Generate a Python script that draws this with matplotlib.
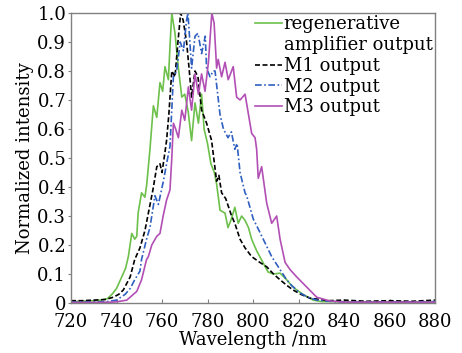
import matplotlib
matplotlib.use("Agg")
import matplotlib.pyplot as plt
from matplotlib.lines import Line2D

# ---- data ----
green_wl = [720, 725, 730, 733, 736, 738, 740, 742.3, 744, 745.2, 746.7, 748, 748.9, 749.5, 751, 752.5,
            753.3, 754.7, 756.2, 757.7, 759.1, 760.3, 761.3, 762.8, 763.6, 764.3, 765.7, 767.2, 768.7,
            770, 771.5, 773, 774.5, 776, 777.4, 778.5, 780, 781.5, 783, 784, 785.5, 787.7, 789, 790.5,
            792, 793.5, 795, 796.5, 798, 799.4, 801.6, 803.8, 806.6, 809, 811.9, 814.8, 817, 819.2,
            822, 826.4, 830, 840, 850, 860, 870, 880]
green_I = [0.005, 0.006, 0.008, 0.01, 0.015, 0.03, 0.05, 0.09, 0.12, 0.16, 0.24, 0.22, 0.23, 0.31, 0.38, 0.365,
           0.41, 0.53, 0.68, 0.64, 0.76, 0.73, 0.815, 0.77, 0.90, 1.0, 0.93, 0.81, 0.71,
           0.72, 0.66, 0.56, 0.69, 0.62, 0.72, 0.60, 0.55, 0.48, 0.45, 0.41, 0.32, 0.31, 0.26, 0.29,
           0.33, 0.275, 0.30, 0.285, 0.26, 0.22, 0.18, 0.148, 0.107, 0.10, 0.103, 0.08, 0.06, 0.045,
           0.03, 0.01, 0.005, 0.004, 0.004, 0.004, 0.004, 0.004]

m1_wl = [720, 725, 730, 735, 738.6, 741, 743, 746, 748, 750.3, 752.5, 754, 756, 757.7, 759.1, 760, 761.3,
         762, 763, 764.3, 765.7, 767, 768.2, 769.3, 770.8, 772, 773, 774.5, 775.8, 777.4, 779.6, 781.8,
         784, 785, 786.2, 788, 790.6, 792, 794.3, 796.5, 799.4, 803, 806, 809, 811.9, 815, 817.6, 821,
         825, 833, 840, 850, 860, 870, 880]
m1_I = [0.008, 0.008, 0.01, 0.012, 0.02, 0.03, 0.045, 0.09, 0.15, 0.19, 0.25, 0.31, 0.39, 0.47, 0.48, 0.45, 0.52,
        0.56, 0.65, 0.80, 0.78, 0.90, 1.0, 0.975, 0.90, 0.80, 0.71, 0.80, 0.78, 0.665, 0.62, 0.56,
        0.42, 0.44, 0.38, 0.36, 0.30, 0.275, 0.22, 0.19, 0.16, 0.14, 0.125, 0.10, 0.08, 0.06, 0.045, 0.03,
        0.017, 0.008, 0.01, 0.006, 0.008, 0.006, 0.01]

m2_wl = [720, 730, 736, 740, 743.8, 746, 748, 750.3, 751, 753.2, 754.7, 756.9, 758.4, 760.6, 762, 763.5,
         765, 766.4, 768, 769.4, 770.8, 771.4, 773, 774.5, 775.8, 777.4, 779, 779.6, 781.1, 782.5, 783.3,
         785.5, 787, 789, 790.5, 792, 793, 794.3, 796.5, 797.2, 800.1, 802, 804.5, 808.2, 811.9, 814.8,
         817, 820.6, 824, 828, 835, 840, 850, 860, 870, 880]
m2_I = [0.003, 0.004, 0.005, 0.01, 0.03, 0.05, 0.08, 0.11, 0.15, 0.22, 0.26, 0.37, 0.34, 0.42, 0.48, 0.54,
        0.78, 0.80, 0.90, 0.87, 0.975, 1.0, 0.81, 0.92, 0.93, 0.86, 0.92, 0.81, 0.78, 0.80, 0.80,
        0.65, 0.60, 0.57, 0.59, 0.53, 0.55, 0.45, 0.38, 0.37, 0.29, 0.26, 0.22, 0.16, 0.115, 0.08,
        0.06, 0.035, 0.02, 0.01, 0.005, 0.004, 0.004, 0.004, 0.004, 0.005]

m3_wl = [720, 730, 738, 740, 744.5, 748.9, 751, 753.2, 754, 755.5, 757.7, 759.1, 760.5, 762, 763.5, 764.3,
         765, 766, 767.2, 768.7, 770, 771.6, 773, 774.5, 776, 777.4, 778.9, 780.4, 781.9, 782.9, 784,
         784.7, 786.2, 787.7, 789.1, 791.3, 792.8, 794.3, 796.5, 797.9, 799.4, 800.9, 801.6, 802.3,
         803.8, 806, 808.2, 810.4, 811.9, 814.1, 816.3, 819.2, 823.6, 828, 833.8, 840, 850, 860, 870, 880]
m3_I = [0.002, 0.002, 0.003, 0.004, 0.01, 0.04, 0.08, 0.15, 0.16, 0.20, 0.23, 0.24, 0.30, 0.355, 0.39, 0.50,
        0.62, 0.60, 0.57, 0.665, 0.63, 0.745, 0.665, 0.79, 0.72, 0.79, 0.73, 0.83, 1.0, 0.965, 0.81,
        0.84, 0.78, 0.83, 0.77, 0.815, 0.71, 0.70, 0.72, 0.655, 0.585, 0.57, 0.53, 0.43,
        0.47, 0.345, 0.275, 0.30, 0.22, 0.14, 0.115, 0.09, 0.055, 0.02, 0.007, 0.003, 0.003, 0.003, 0.003, 0.003]

x_ticks = [720, 740, 760, 780, 800, 820, 840, 860, 880]
y_ticks = [0, 0.1, 0.2, 0.3, 0.4, 0.5, 0.6, 0.7, 0.8, 0.9, 1.0]
y_tick_labels = ["0", "0.1", "0.2", "0.3", "0.4", "0.5", "0.6", "0.7", "0.8", "0.9", "1.0"]

# ---- plot ----
plt.rcParams['font.family'] = ['DejaVu Serif']
fig = plt.figure(figsize=(4.62, 3.53), dpi=100)
ax = fig.add_axes([0.1537, 0.1416, 0.7879, 0.8216])

c_green = '#6dc04b'
c_blue = '#2f5fc0'
c_mag = '#b24fb5'
ls_m1 = (0, (3, 1.5))
ls_m2 = (0, (4, 1.5, 1, 1.5))

ax.plot(green_wl, green_I, color=c_green, lw=1.2)
ax.plot(m1_wl, m1_I, color='black', lw=1.2, ls=ls_m1)
ax.plot(m2_wl, m2_I, color=c_blue, lw=1.2, ls=ls_m2)
ax.plot(m3_wl, m3_I, color=c_mag, lw=1.2)

ax.set_xlim(720, 880)
ax.set_ylim(0, 1.0)
ax.set_xticks(x_ticks)
ax.set_yticks(y_ticks)
ax.set_yticklabels(y_tick_labels)
ax.tick_params(axis='x', direction='in', length=3, width=0.8, color='#808080', labelsize=13, pad=7)
ax.tick_params(axis='y', direction='out', length=2.5, width=0.8, color='#808080', labelsize=13, pad=1)
for s in ax.spines.values():
    s.set_color('#808080')
    s.set_linewidth(1.0)

ax.set_xlabel('Wavelength /nm', fontsize=13, labelpad=0)
ax.set_ylabel('Normalized intensity', fontsize=13, labelpad=2)

handles = [Line2D([], [], color=c_green, lw=1.2),
           Line2D([], [], color='none'),
           Line2D([], [], color='black', lw=1.2, ls=ls_m1),
           Line2D([], [], color=c_blue, lw=1.2, ls=ls_m2),
           Line2D([], [], color=c_mag, lw=1.2)]
labels = ['regenerative', 'amplifier output', 'M1 output', 'M2 output', 'M3 output']
ax.legend(handles, labels, loc='upper left', bbox_to_anchor=(0.47, 1.035), frameon=False,
          fontsize=13, handlelength=1.5, handletextpad=0.1, labelspacing=0.15, borderpad=0.2)

fig.savefig('out.png', dpi=100)
